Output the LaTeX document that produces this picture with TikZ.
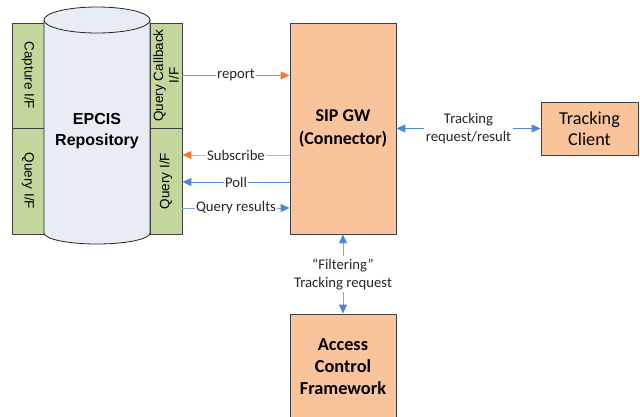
\documentclass[tikz,border=0pt]{standalone}
\usepackage{fontspec}
\setmainfont{Carlito}
\newfontfamily\arialf{Liberation Sans}
\usetikzlibrary{arrows.meta}
\definecolor{grn}{HTML}{C3D69B}
\definecolor{cylc}{HTML}{E8ECF4}
\definecolor{orf}{HTML}{F9C39B}
\definecolor{bord}{HTML}{404040}
\definecolor{oarr}{HTML}{ED7D31}
\definecolor{oline}{HTML}{F4A66E}
\definecolor{barr}{HTML}{4F86D0}
\definecolor{bline}{HTML}{7DA6DC}
\tikzset{
  panel/.style={draw=bord, line width=0.8pt, fill=grn, inner sep=0pt},
  obox/.style={draw=bord, line width=0.8pt, fill=orf, inner sep=0pt, align=center},
  ptext/.style={font=\arialf\fontsize{13.5}{15.5}\selectfont, align=center, inner sep=0pt},
  lbl/.style={fill=white, inner sep=1pt, font=\fontsize{14.7}{18}\selectfont, align=center, text=black!85},
  tipo/.style={-{Triangle[length=9pt,width=8pt,color=oarr]}},
  tipb/.style={-{Triangle[length=9pt,width=8pt,color=barr]}},
  dtipb/.style={{Triangle[length=9pt,width=8pt,color=barr]}-{Triangle[length=9pt,width=8pt,color=barr]}},
}
\begin{document}
\begin{tikzpicture}[x=1pt,y=-1pt]
\useasboundingbox (0,0) rectangle (640,417);
\clip (0,0) rectangle (640,417);
% left panels
\node[panel, minimum width=32pt, minimum height=105pt] (capp) at (28,75.5) {};
\node[ptext, rotate=-90] (capt) at (capp.center) {Capture I/F};
\node[panel, minimum width=32pt, minimum height=106pt] (lqp) at (28,181) {};
\node[ptext, rotate=-90] (lqt) at (lqp.center) {Query I/F};
% right panels
\node[panel, minimum width=32pt, minimum height=105pt] (qcb) at (166,75.5) {};
\node[ptext, rotate=90] (qcbt) at (qcb.center) {Query Callback\\I/F};
\node[panel, minimum width=32pt, minimum height=106pt] (qif) at (166,181) {};
\node[ptext, rotate=90] (qift) at (qif.center) {Query I/F};
% cylinder
\draw[draw=black!85, line width=0.8pt, fill=cylc] (44,20) -- (44,233) arc[start angle=180, end angle=0, x radius=53, y radius=11] -- (150,20) -- cycle;
\draw[draw=black!85, line width=0.8pt, fill=cylc] (97,20) ellipse[x radius=53, y radius=13];
\node[font=\arialf\bfseries\fontsize{16}{21}\selectfont, align=center] (repo) at (97,131) {EPCIS\\Repository};
% boxes
\node[obox, minimum width=106pt, minimum height=211pt, font=\bfseries\fontsize{18}{23}\selectfont] (sip) at (343,128.5) {SIP GW\\(Connector)};
\node[obox, minimum width=97pt, minimum height=53pt, font=\fontsize{18.2}{21}\selectfont] (tc) at (589.5,128.5) {Tracking\\Client};
\node[obox, minimum width=106pt, minimum height=106pt, font=\bfseries\fontsize{18.3}{22}\selectfont] (acf) at (343,367) {Access\\Control\\Framework};
% connectors
\coordinate (ysub) at (0,155);
\coordinate (ypoll) at (0,182);
\coordinate (yqr) at (0,208);
\draw[oarr, line width=0.9pt, tipo] (qcb.east) -- (qcb.east -| sip.west) node[midway, lbl] {report};
\draw[oline, line width=0.9pt, tipo] (sip.west |- ysub) -- (qif.east |- ysub) node[midway, lbl] {Subscribe};
\draw[barr, line width=0.9pt, tipb] (sip.west |- ypoll) -- (qif.east |- ypoll) node[midway, lbl] {Poll};
\draw[bline, line width=0.9pt, tipb] (qif.east |- yqr) -- (sip.west |- yqr) node[midway, lbl] {Query results};
\draw[barr, line width=0.9pt, dtipb] (sip.east |- tc.west) -- (tc.west) node[midway, lbl, inner sep=2pt] {Tracking\\request/result};
\draw[bline, line width=0.9pt, dtipb] (sip.south) -- (acf.north) node[midway, lbl, inner sep=2pt] {“Filtering”\\Tracking request};
\end{tikzpicture}
\end{document}
